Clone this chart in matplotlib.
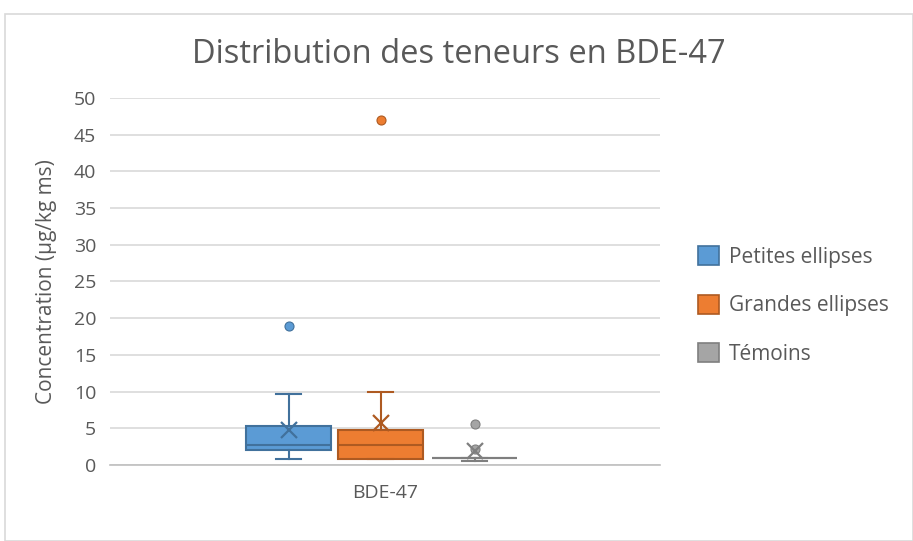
import matplotlib.pyplot as plt
from matplotlib.patches import Patch, Rectangle

plt.rcParams['font.family'] = ['Open Sans', 'DejaVu Sans']

groups = ["Petites ellipses", "Grandes ellipses", "Témoins"]
category = "BDE-47"
q1 = [2.0, 0.85, 1.0]
med = [2.7, 2.7, 1.0]
q3 = [5.3, 4.8, 1.0]
whislo = [0.8, 0.8, 0.6]
whishi = [9.7, 10.0, 1.0]
means = [4.8, 5.7, 1.9]
fliers = [[19.0], [47.0], [5.6, 2.2]]

faces = ["#5B9BD5", "#ED7D31", "#A5A5A5"]
edges = ["#41719C", "#AE5A21", "#7F7F7F"]
positions = [0.325, 0.492, 0.663]

fig = plt.figure(figsize=(9.13, 5.41), dpi=100)
fig.patches.append(Rectangle((0.005, 0.0), 0.995, 0.975, transform=fig.transFigure,
                             fill=False, edgecolor="#D9D9D9", lw=1.2))
ax = fig.add_axes([0.1205, 0.1405, 0.6025, 0.6785])

for i in range(len(groups)):
    stats = [dict(q1=q1[i], med=med[i], q3=q3[i], whislo=whislo[i], whishi=whishi[i],
                  mean=means[i], fliers=fliers[i], label=groups[i])]
    ax.bxp(stats, positions=[positions[i]], widths=0.155, patch_artist=True,
           showmeans=True, capwidths=0.045,
           boxprops=dict(facecolor=faces[i], edgecolor=edges[i], lw=1.5),
           medianprops=dict(color=edges[i], lw=1.5),
           whiskerprops=dict(color=edges[i], lw=1.5),
           capprops=dict(color=edges[i], lw=1.5),
           meanprops=dict(marker="x", markersize=11, markeredgecolor=edges[i],
                          markeredgewidth=1.6),
           flierprops=dict(marker="o", markersize=6.5, markerfacecolor=faces[i],
                           markeredgecolor=edges[i], markeredgewidth=0.8),
           zorder=3)

ax.set_xlim(0, 1)
ax.set_ylim(0, 50)
ax.set_yticks(range(0, 51, 5))
ax.set_xticks([0.5])
ax.set_xticklabels([category])
ax.tick_params(axis="y", length=0, labelsize=14, colors="#595959", pad=10)
ax.tick_params(axis="x", length=0, labelsize=14, colors="#595959", pad=14)
ax.grid(axis="y", color="#D9D9D9", lw=1.2, zorder=0)
for s in ["top", "right", "left"]:
    ax.spines[s].set_visible(False)
ax.spines["bottom"].set_color("#BFBFBF")
ax.spines["bottom"].set_linewidth(1.2)
ax.set_axisbelow(True)
ax.set_ylabel("Concentration (µg/kg ms)", fontsize=15, color="#595959", labelpad=12)

fig.suptitle("Distribution des teneurs en BDE-47", x=0.503, y=0.93,
             fontsize=23.5, color="#595959")

handles = [Patch(facecolor=faces[i], edgecolor=edges[i], lw=1.2) for i in range(3)]
fig.legend(handles, groups, loc="center left", bbox_to_anchor=(0.744, 0.435),
           frameon=False, fontsize=15, labelcolor="#595959", labelspacing=1.3,
           handlelength=1.0, handleheight=1.0, handletextpad=0.5)

fig.savefig("out.png", dpi=100)
